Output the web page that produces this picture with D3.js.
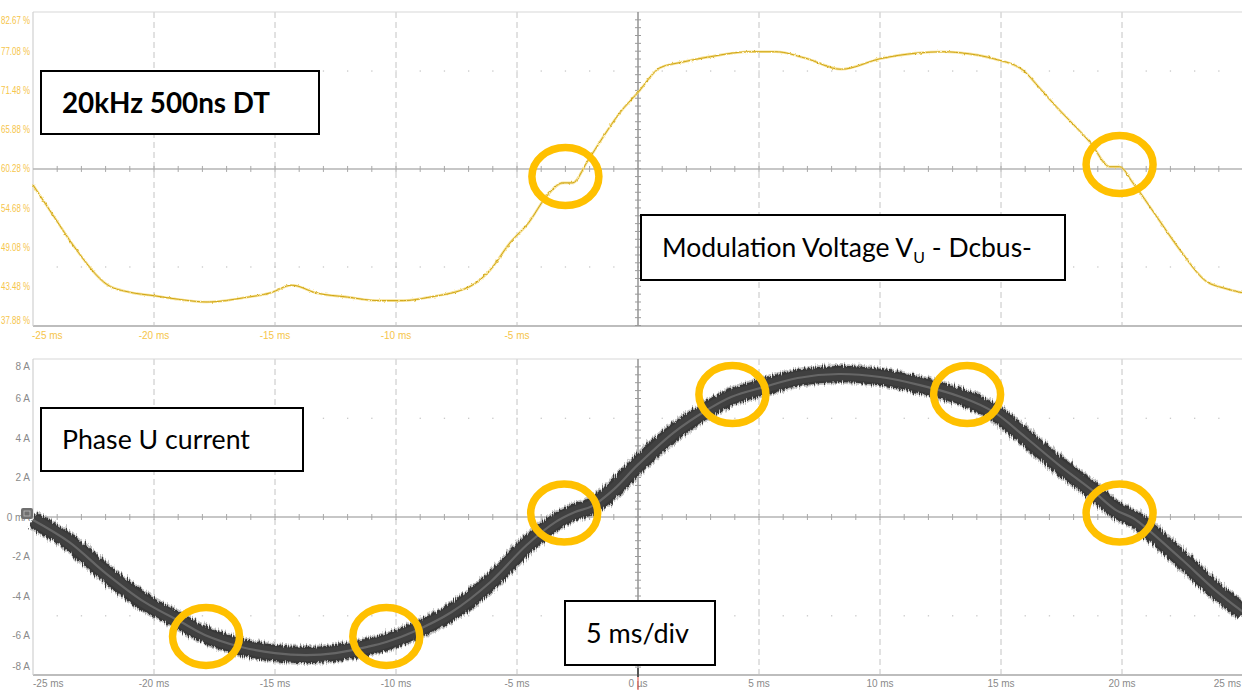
<!DOCTYPE html>
<html>
<head>
<meta charset="utf-8">
<script src="https://cdn.jsdelivr.net/npm/d3@7"></script>
<style>
  html, body { margin: 0; padding: 0; background: #fff; }
  svg { display: block; }
  .axlbl { font-family: "Liberation Sans Narrow", "Arial Narrow", "Liberation Sans", sans-serif; font-size: 10px; }
  .note { font-family: Lato, "Open Sans", sans-serif; fill: #000; }
</style>
</head>
<body>
<svg id="chart" width="1242" height="692"></svg>
<script>
// Time base (ms) shared by both traces
const timeTicks = [-25, -20, -15, -10, -5, 0, 5, 10, 15, 20, 25];
const timeTickLabels = ["-25 ms", "-20 ms", "-15 ms", "-10 ms", "-5 ms", "0 µs", "5 ms", "10 ms", "15 ms", "20 ms", "25 ms"];

// Upper trace: modulation voltage V_U - Dcbus- (% of DC bus)
const voltTicks = [82.67, 77.08, 71.48, 65.88, 60.28, 54.68, 49.08, 43.48, 37.88];
const voltTime = [-25, -24.1, -23.3, -21.9, -21.0, -20.0, -18.8, -17.8, -16.3, -15.2, -14.3, -13.3, -12.0, -10.7, -9.7, -8.6, -6.9, -6.1, -5.3, -4.5, -3.8, -3.1, -2.7, -2.1, -1.45, -0.75, 0.0, 0.9, 1.8, 3.0, 4.6, 5.7, 6.9, 8.4, 10.0, 11.5, 12.6, 13.7, 14.7, 15.9, 16.6, 17.3, 18.0, 18.7, 19.5, 19.9, 20.45, 21.45, 22.4, 23.5, 24.2, 25];
const voltPct = [58.0, 53.3, 49.2, 43.7, 42.7, 42.2, 41.6, 41.3, 41.9, 42.6, 43.7, 42.6, 42.0, 41.5, 41.5, 42.0, 43.6, 45.9, 49.7, 52.7, 56.3, 58.3, 58.3, 61.3, 64.8, 68.3, 71.2, 74.7, 75.5, 76.3, 77.0, 77.0, 76.1, 74.5, 76.0, 76.8, 77.0, 76.7, 76.0, 74.4, 71.8, 69.1, 66.6, 64.0, 60.6, 60.6, 58.3, 53.4, 48.7, 44.2, 43.3, 42.6];

// Lower trace: phase U current (A)
const ampTicks = [8, 6, 4, 2, 0, -2, -4, -6, -8];
const ampTickLabels = ["8 A", "6 A", "4 A", "2 A", "0 mA", "-2 A", "-4 A", "-6 A", "-8 A"];
const currTime = [-25, -23.5, -22, -20.4, -18.8, -17.9, -16.4, -15, -13.7, -12.5, -11.2, -10.4, -9.3, -7.7, -6.1, -4.6, -3.4, -2.6, -1.9, -1.0, 0, 1.5, 2.85, 3.85, 5.2, 6.6, 8.3, 10, 11.65, 13.35, 14.7, 16.0, 17.4, 18.75, 19.75, 20.45, 21.1, 22.5, 23.85, 25];
const currAmp = [-0.15, -1.27, -2.84, -4.30, -5.37, -5.97, -6.58, -6.89, -6.99, -6.89, -6.58, -6.33, -5.82, -4.81, -3.29, -1.42, -0.25, 0.25, 0.55, 1.40, 2.65, 4.30, 5.42, 6.08, 6.58, 7.04, 7.24, 7.09, 6.68, 6.08, 5.32, 4.05, 2.63, 1.37, 0.35, -0.05, -0.66, -2.18, -3.70, -4.81];

// Highlighted regions (time ms, value) around the dead-time distortion
const voltMarks = [[-3.0, 59.2], [19.9, 60.9]];
const currMarks = [[-17.85, -6.05], [-10.4, -6.05], [-3.05, 0.2], [3.9, 6.2], [13.6, 6.2], [19.9, 0.2]];

// Text boxes (fit = width the text line occupies)
const boxNotes = [
  { text: "20kHz 500ns DT", bold: true, x: 41, y: 71, w: 278, h: 63, fit: 208 },
  { text: "Modulation Voltage V", sub: "U", tail: " - Dcbus-", x: 641, y: 215, w: 424, h: 65, fit: 370 },
  { text: "Phase U current", x: 41, y: 408, w: 262, h: 63, fit: 188 },
  { text: "5 ms/div", x: 565, y: 601, w: 150, h: 64, fit: 103 }
];

const svg = d3.select("#chart");
const W = 1242, H = 692;
const left = 33, right = 1243;

const x = d3.scaleLinear().domain([-25, 25]).range([left, right]);
const yV = d3.scaleLinear().domain([37.88, 82.67]).range([326, 12]);
const yI = d3.scaleLinear().domain([-8, 8]).range([675, 359]);

const defs = svg.append("defs");
const rough = defs.append("filter").attr("id", "rough")
  .attr("x", "-2%").attr("y", "-10%").attr("width", "104%").attr("height", "120%");
rough.append("feTurbulence").attr("type", "fractalNoise")
  .attr("baseFrequency", "0.9 0.06").attr("numOctaves", 2).attr("seed", 7).attr("result", "n");
rough.append("feDisplacementMap").attr("in", "SourceGraphic").attr("in2", "n")
  .attr("scale", 8).attr("xChannelSelector", "R").attr("yChannelSelector", "G");
const soft = defs.append("filter").attr("id", "soft");
soft.append("feGaussianBlur").attr("stdDeviation", 0.6);
const wiggle = defs.append("filter").attr("id", "wiggle")
  .attr("x", "-2%").attr("y", "-5%").attr("width", "104%").attr("height", "110%");
wiggle.append("feTurbulence").attr("type", "fractalNoise")
  .attr("baseFrequency", "0.35 0.35").attr("numOctaves", 2).attr("seed", 2).attr("result", "n");
wiggle.append("feDisplacementMap").attr("in", "SourceGraphic").attr("in2", "n")
  .attr("scale", 2.4).attr("xChannelSelector", "R").attr("yChannelSelector", "G");

// Draws the oscilloscope graticule for one panel
function graticule(g, y, hTicks, centerVal, top, bottom) {
  const divW = x(5) - x(0);
  const divH = Math.abs(y(hTicks[1]) - y(hTicks[0]));
  // horizontal grid
  g.selectAll(".hg").data(hTicks.slice(1, -1).filter(v => v !== centerVal)).join("line")
    .attr("x1", left).attr("x2", W).attr("y1", d => y(d)).attr("y2", d => y(d))
    .attr("stroke", "#c9c9c9").attr("stroke-width", 1.7).attr("filter", "url(#soft)");
  // vertical dashed grid
  g.selectAll(".vg").data(timeTicks.slice(1, -1).filter(t => t !== 0)).join("line")
    .attr("x1", d => x(d)).attr("x2", d => x(d)).attr("y1", top).attr("y2", bottom)
    .attr("stroke", "#c4c4c4").attr("stroke-width", 1).attr("stroke-dasharray", "6,4");
  // dotted rows half-way between centre and edges
  const cy = y(centerVal);
  const dotX = d3.range(left + divW / 5, W, divW / 5);
  [cy - 2.5 * divH, cy + 2.5 * divH].forEach(yy => {
    g.append("g").selectAll("rect").data(dotX).join("rect")
      .attr("x", d => d - 0.6).attr("y", yy - 0.6).attr("width", 1.3).attr("height", 1.3)
      .attr("fill", "#c8c8c8");
  });
  // frame
  g.append("line").attr("x1", left).attr("x2", W).attr("y1", top).attr("y2", top)
    .attr("stroke", "#d8d8d8").attr("stroke-width", 1.2);
  g.append("line").attr("x1", left).attr("x2", W).attr("y1", bottom).attr("y2", bottom)
    .attr("stroke", "#bdbdbd").attr("stroke-width", 2);
  g.append("line").attr("x1", left).attr("x2", left).attr("y1", top).attr("y2", bottom)
    .attr("stroke", "#d0d0d0").attr("stroke-width", 1.2);
  // centre cross with minor ticks
  g.append("line").attr("x1", left).attr("x2", W).attr("y1", cy).attr("y2", cy)
    .attr("stroke", "#b4b4b4").attr("stroke-width", 1.4);
  g.append("line").attr("x1", x(0)).attr("x2", x(0)).attr("y1", top).attr("y2", bottom)
    .attr("stroke", "#8c8c8c").attr("stroke-width", 1.4);
  g.append("g").selectAll("line").data(dotX).join("line")
    .attr("x1", d => d).attr("x2", d => d).attr("y1", cy - 3).attr("y2", cy + 3)
    .attr("stroke", "#a8a8a8").attr("stroke-width", 1);
  const tickY = d3.range(top + divH / 5, bottom, divH / 5);
  g.append("g").selectAll("line").data(tickY).join("line")
    .attr("x1", x(0) - 3).attr("x2", x(0) + 3).attr("y1", d => d).attr("y2", d => d)
    .attr("stroke", "#9a9a9a").attr("stroke-width", 1);
}

const gTop = svg.append("g");
graticule(gTop, yV, voltTicks, 60.28, yV(82.67), yV(37.88));
const gBot = svg.append("g");
graticule(gBot, yI, ampTicks, 0, yI(8), yI(-8));

// Y labels (extreme labels sit inside the frame); the voltage labels are
// condensed to fit the narrow margin left of the frame
const gYV = svg.append("g").selectAll("text").data(voltTicks).join("text")
  .attr("class", "axlbl")
  .attr("x", 1)
  .attr("y", d => Math.min(Math.max(yV(d), 20), 320))
  .attr("dy", "0.35em")
  .attr("font-size", 9.5)
  .attr("textLength", 29)
  .attr("lengthAdjust", "spacingAndGlyphs")
  .attr("fill", "#f6c54a")
  .text(d => d3.format(".2f")(d) + " %");
svg.append("g").selectAll("text").data(ampTicks).join("text")
  .attr("class", "axlbl")
  .attr("x", 30)
  .attr("y", d => Math.min(Math.max(yI(d), 366), 666))
  .attr("dy", "0.35em")
  .attr("text-anchor", "end")
  .attr("font-size", 10)
  .attr("fill", "#8a8a8a")
  .text((d, i) => ampTickLabels[i]);

// Channel marker next to the zero line of the current panel
svg.append("rect").attr("x", 21).attr("y", yI(0) - 9).attr("width", 12).attr("height", 11)
  .attr("rx", 2).attr("fill", "#6f6f6f");
svg.append("rect").attr("x", 24).attr("y", yI(0) - 6).attr("width", 6).attr("height", 5)
  .attr("fill", "none").attr("stroke", "#bdbdbd").attr("stroke-width", 0.8);

// X labels: upper panel shows only negative times
const xLblTop = timeTicks.filter(t => t < 0);
svg.append("g").selectAll("text").data(xLblTop).join("text")
  .attr("class", "axlbl")
  .attr("x", d => d === -25 ? x(d) - 1 : x(d))
  .attr("y", 335).attr("dy", "0.35em")
  .attr("text-anchor", d => d === -25 ? "start" : "middle")
  .attr("fill", "#f6c54a")
  .text(d => timeTickLabels[timeTicks.indexOf(d)]);
svg.append("g").selectAll("text").data(timeTicks).join("text")
  .attr("class", "axlbl")
  .attr("x", d => d === -25 ? x(d) : (d === 25 ? W - 1 : x(d)))
  .attr("y", 683).attr("dy", "0.35em")
  .attr("text-anchor", d => d === -25 ? "start" : (d === 25 ? "end" : "middle"))
  .attr("fill", "#8a8a8a")
  .text((d, i) => timeTickLabels[i]);
// trigger marker at t = 0
svg.append("line").attr("x1", x(0)).attr("x2", x(0)).attr("y1", 668).attr("y2", 677)
  .attr("stroke", "#555").attr("stroke-width", 2);
svg.append("line").attr("x1", x(0)).attr("x2", x(0)).attr("y1", 677).attr("y2", 690)
  .attr("stroke", "#e0453a").attr("stroke-width", 1);

// Voltage trace
const voltData = voltTime.map((t, i) => [t, voltPct[i]]);
const vLine = d3.line().x(d => x(d[0])).y(d => yV(d[1])).curve(d3.curveMonotoneX);
svg.append("path").datum(voltData).attr("d", vLine)
  .attr("fill", "none").attr("stroke", "#f5d977").attr("stroke-width", 2.6).attr("opacity", 0.75)
  .attr("filter", "url(#wiggle)");
svg.append("path").datum(voltData).attr("d", vLine)
  .attr("fill", "none").attr("stroke", "#cfa514").attr("stroke-width", 1)
  .attr("filter", "url(#wiggle)");

// Current trace: thick noisy band with a lighter mean line
const currData = currTime.map((t, i) => [t, currAmp[i]]);
const iLine = d3.line().x(d => x(d[0])).y(d => yI(d[1])).curve(d3.curveCatmullRom.alpha(0.5));
const gCur = svg.append("g");
gCur.append("path").datum(currData).attr("d", iLine)
  .attr("fill", "none").attr("stroke", "#b0b0b0").attr("stroke-width", 20)
  .attr("stroke-linecap", "butt").attr("filter", "url(#rough)").attr("opacity", 0.75);
gCur.append("path").datum(currData).attr("d", iLine)
  .attr("fill", "none").attr("stroke", "#383838").attr("stroke-width", 16.5)
  .attr("stroke-linecap", "butt").attr("filter", "url(#rough)");
gCur.append("path").datum(currData).attr("d", iLine)
  .attr("fill", "none").attr("stroke", "#404040").attr("stroke-width", 12);
gCur.append("path").datum(currData).attr("d", iLine)
  .attr("fill", "none").attr("stroke", "#666").attr("stroke-width", 2.2);

// Highlight rings
const ring = { rx: 33.5, ry: 29, sw: 7.5, color: "#ffc000" };
svg.append("g").selectAll("ellipse").data(voltMarks).join("ellipse")
  .attr("cx", d => x(d[0])).attr("cy", d => yV(d[1]))
  .attr("rx", ring.rx).attr("ry", ring.ry)
  .attr("fill", "none").attr("stroke", ring.color).attr("stroke-width", ring.sw);
svg.append("g").selectAll("ellipse").data(currMarks).join("ellipse")
  .attr("cx", d => x(d[0])).attr("cy", d => yI(d[1]))
  .attr("rx", ring.rx).attr("ry", ring.ry)
  .attr("fill", "none").attr("stroke", ring.color).attr("stroke-width", ring.sw);

// Annotation boxes; font size chosen so each line spans its box's text width
const gNotes = svg.append("g");
boxNotes.forEach(b => {
  gNotes.append("rect").attr("x", b.x).attr("y", b.y).attr("width", b.w).attr("height", b.h)
    .attr("fill", "#fff").attr("stroke", "#000").attr("stroke-width", 2);
  const base = b.bold ? 26 : 24;
  const t = gNotes.append("text").attr("class", "note")
    .attr("x", b.x + 21).attr("y", b.y + b.h / 2).attr("dy", "0.36em")
    .attr("font-size", base)
    .attr("font-weight", b.bold ? 700 : 400);
  t.append("tspan").text(b.text);
  let sub = null;
  if (b.sub) {
    sub = t.append("tspan").attr("font-size", base * 0.6).attr("dy", 6).text(b.sub);
    t.append("tspan").attr("dy", -6).text(b.tail);
  }
  const len = t.node().getComputedTextLength();
  const size = base * b.fit / len;
  t.attr("font-size", size);
  if (sub) sub.attr("font-size", size * 0.6);
});
</script>
</body>
</html>
